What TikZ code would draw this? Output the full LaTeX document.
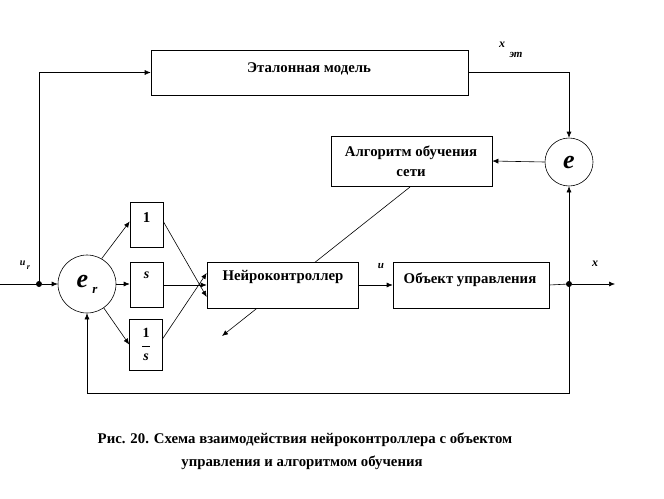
\documentclass[tikz,border=0pt]{standalone}
\usepackage{fontspec}
\setmainfont{Liberation Serif}
\usetikzlibrary{arrows.meta}
\begin{document}
\begin{tikzpicture}[x=1pt,y=-1pt,
  line/.style={draw=black,line width=0.6pt},
  arr/.style={line,-{Latex[length=6pt,width=5pt]}},
  blk/.style={draw=black,line width=0.6pt,fill=white},
  lbl/.style={font=\bfseries\fontsize{14.8}{16}\selectfont,inner sep=0pt},
  dotn/.style={circle,fill=black,inner sep=0pt,minimum size=6pt}]
\useasboundingbox (0,0) rectangle (664,498);
\node[blk,minimum width=317pt,minimum height=45pt,inner sep=0pt] (model) at (309.5,72.5) {};
\node[lbl] (tmodel) at (309,69) {Эталонная модель};
\node[blk,minimum width=161pt,minimum height=50pt,inner sep=0pt] (alg) at (411.5,161) {};
\node[lbl,align=center] (talg) at (411,161) {Алгоритм обучения\\[4pt]сети};
\node[draw=black,line width=0.6pt,circle,minimum size=48pt,inner sep=0pt] (e) at (569,162) {\fontsize{26}{28}\selectfont\bfseries\itshape e};
\node[draw=black,line width=0.6pt,circle,minimum size=58pt,inner sep=0pt] (er) at (87,284) {\fontsize{26}{28}\selectfont\bfseries\itshape e\,\raisebox{-6pt}{\fontsize{13}{14}\selectfont r}};
\coordinate (in) at (0,284);
\node[dotn] (d1) at (39,284) {};
\coordinate (dstart) at (410,187);
\coordinate (dend) at (222,336);
\draw[arr] (dstart) -- (dend);
\node[blk,minimum width=33pt,minimum height=45pt,inner sep=0pt] (b1) at (146.5,224.5) {};
\node[lbl,font=\bfseries\fontsize{15}{16}\selectfont] (t1) at (146.5,218) {1};
\node[blk,minimum width=33pt,minimum height=45pt,inner sep=0pt] (bs) at (146.5,284.5) {};
\node[lbl,font=\bfseries\itshape\fontsize{14}{16}\selectfont] (ts) at (146.5,275) {s};
\node[blk,minimum width=33pt,minimum height=51pt,inner sep=0pt] (bi) at (146,344.5) {};
\node[lbl,font=\bfseries\fontsize{14}{16}\selectfont] (tin) at (146,333) {1};
\node[lbl,font=\bfseries\itshape\fontsize{14}{16}\selectfont] (tis) at (146,357) {s};
\coordinate (fl) at (146,346);
\draw[line,line width=1pt] ([xshift=-4pt]fl) -- ([xshift=4pt]fl);
\node[blk,minimum width=151pt,minimum height=46pt,inner sep=0pt] (nc) at (282.5,285) {};
\node[lbl] (tnc) at (283,277) {Нейроконтроллер};
\node[blk,minimum width=156pt,minimum height=46pt,inner sep=0pt] (obj) at (471,285) {};
\node[lbl] (tobj) at (470,280) {Объект управления};
\node[dotn] (d2) at (569,284) {};
\coordinate (out) at (615,284);
\coordinate (fb1) at (569,393);
\coordinate (fb2) at (87,393);
\node[inner sep=0pt,font=\bfseries\itshape\fontsize{10}{10}\selectfont] (lur) at (25,265) {u\raisebox{-4pt}{\fontsize{8}{8}\selectfont\,r}};
\node[inner sep=0pt,font=\bfseries\itshape\fontsize{12}{12}\selectfont] (lx1) at (502,45) {x};
\node[inner sep=0pt,font=\bfseries\itshape\fontsize{11}{11}\selectfont] (lx2) at (516,55) {эт};
\node[inner sep=0pt,font=\bfseries\itshape\fontsize{11}{11}\selectfont] (lu) at (381,266) {u};
\node[inner sep=0pt,font=\bfseries\itshape\fontsize{12}{12}\selectfont] (lx) at (595,264) {x};
\draw[line] (in) -- (d1.center);
\draw[arr] (d1) -- (er.west);
\draw[arr] (d1.center) |- (model.west);
\draw[arr] (model.east) -| (e.north);
\draw[arr] (e.west) -- (alg.east);
\draw[arr] (er.60) -- ([yshift=3pt]b1.west);
\draw[arr] (er.east) -- (bs.west |- er.east);
\draw[arr] (er.-55) -- (bi.west);
\draw[arr] ([yshift=3pt]b1.east) -- ([yshift=-12pt]nc.west);
\draw[arr] (bs.east |- nc.west) -- (nc.west);
\draw[arr] ([yshift=6pt]bi.east) -- ([yshift=12pt]nc.west);
\draw[arr] (nc.east) -- (obj.west);
\draw[line] (obj.east) -- (d2.center);
\draw[arr] (d2) -- (out);
\draw[arr] (d2.center) -- (e.south);
\draw[arr] (d2.center) -- (fb1) -- (fb2) -- (er.south);
\node[inner sep=0pt,font=\bfseries\fontsize{14.8}{16}\selectfont] (cap1) at (305,440) {Рис. 20. Схема взаимодействия нейроконтроллера с объектом};
\node[inner sep=0pt,font=\bfseries\fontsize{14.8}{16}\selectfont] (cap2) at (302,463) {управления и алгоритмом обучения};
\end{tikzpicture}
\end{document}
